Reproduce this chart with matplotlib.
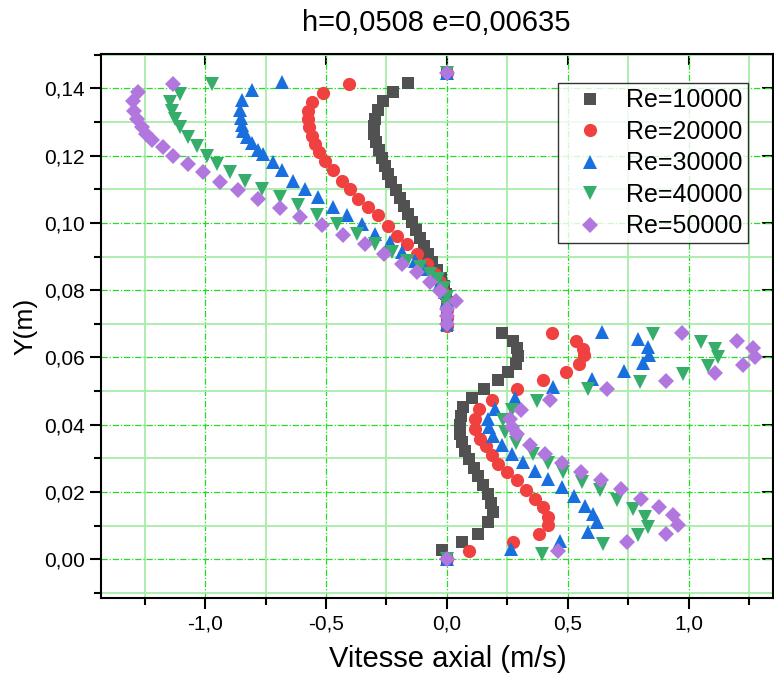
import matplotlib
matplotlib.use("Agg")
import matplotlib.pyplot as plt
from matplotlib.ticker import MultipleLocator, FuncFormatter, NullLocator

plt.rcParams["font.family"] = ["Liberation Sans", "DejaVu Sans"]


# Re=10000 profile (upper half, then lower half)
re10k_x = [0.000, -0.161, -0.223, -0.264, -0.285, -0.298, -0.302, -0.302, -0.292, -0.282,
           -0.270, -0.258, -0.244, -0.230, -0.212, -0.196, -0.178, -0.160, -0.144, -0.127,
           -0.110, -0.093, -0.077, -0.060, -0.042, -0.025, -0.012, -0.004, 0.000, 0.000,
           0.000, 0.000,
           0.226, 0.274, 0.291, 0.295, 0.285, 0.253, 0.212, 0.153, 0.105, 0.067,
           0.057, 0.053, 0.055, 0.061, 0.073, 0.090, 0.110, 0.128, 0.150, 0.171,
           0.184, 0.191, 0.171, 0.129, 0.063, -0.020, 0.000]
re10k_y = [0.1445, 0.1415, 0.1388, 0.1361, 0.1335, 0.1310, 0.1287, 0.1263, 0.1240, 0.1216,
           0.1192, 0.1168, 0.1144, 0.1121, 0.1097, 0.1073, 0.1049, 0.1026, 0.1002, 0.0978,
           0.0954, 0.0930, 0.0907, 0.0883, 0.0859, 0.0835, 0.0812, 0.0788, 0.0764, 0.0740,
           0.0716, 0.0695,
           0.0673, 0.0650, 0.0628, 0.0605, 0.0582, 0.0557, 0.0532, 0.0507, 0.0480, 0.0452,
           0.0425, 0.0398, 0.0372, 0.0348, 0.0322, 0.0298, 0.0272, 0.0248, 0.0222, 0.0195,
           0.0168, 0.0140, 0.0111, 0.0076, 0.0051, 0.0027, 0.0000]

# Re=20000
re20k_x = [0.000, -0.404, -0.514, -0.559, -0.573, -0.573, -0.569, -0.559, -0.545, -0.528,
           -0.504, -0.470, -0.435, -0.400, -0.367, -0.325, -0.284, -0.243, -0.208, -0.167,
           -0.125, -0.084, -0.050, -0.029, -0.015, 0.000, 0.000, 0.000, 0.000,
           0.433, 0.532, 0.561, 0.566, 0.547, 0.490, 0.398, 0.291, 0.185, 0.134,
           0.116, 0.116, 0.136, 0.160, 0.185, 0.212, 0.247, 0.288, 0.326, 0.364,
           0.398, 0.419, 0.419, 0.381, 0.274, 0.092, 0.000]
re20k_y = [0.1445, 0.1413, 0.1385, 0.1358, 0.1334, 0.1309, 0.1284, 0.1259, 0.1235, 0.1210,
           0.1185, 0.1156, 0.1126, 0.1101, 0.1072, 0.1047, 0.1022, 0.0992, 0.0962, 0.0938,
           0.0908, 0.0878, 0.0849, 0.0824, 0.0794, 0.0768, 0.0742, 0.0716, 0.0695,
           0.0674, 0.0650, 0.0626, 0.0606, 0.0581, 0.0556, 0.0532, 0.0507, 0.0475, 0.0446,
           0.0416, 0.0388, 0.0359, 0.0336, 0.0310, 0.0284, 0.0259, 0.0235, 0.0207, 0.0180,
           0.0155, 0.0126, 0.0101, 0.0076, 0.0051, 0.0025, 0.0000]

# Re=30000
re30k_x = [0.000, -0.683, -0.807, -0.848, -0.855, -0.853, -0.848, -0.842, -0.828, -0.807,
           -0.781, -0.759, -0.720, -0.683, -0.638, -0.587, -0.532, -0.470, -0.414, -0.352,
           -0.298, -0.236, -0.187, -0.132, -0.091, -0.057, -0.029, -0.008, 0.000, 0.000,
           0.000, 0.000,
           0.642, 0.791, 0.832, 0.836, 0.811, 0.733, 0.598, 0.437, 0.281, 0.198,
           0.171, 0.175, 0.191, 0.226, 0.267, 0.315, 0.364, 0.419, 0.474, 0.525,
           0.570, 0.605, 0.619, 0.584, 0.467, 0.263, 0.000]
re30k_y = [0.1445, 0.1419, 0.1394, 0.1365, 0.1337, 0.1313, 0.1290, 0.1272, 0.1254, 0.1236,
           0.1218, 0.1206, 0.1181, 0.1156, 0.1126, 0.1101, 0.1076, 0.1047, 0.1022, 0.0997,
           0.0967, 0.0942, 0.0913, 0.0888, 0.0863, 0.0843, 0.0820, 0.0796, 0.0770, 0.0745,
           0.0720, 0.0700,
           0.0677, 0.0656, 0.0631, 0.0606, 0.0583, 0.0559, 0.0537, 0.0512, 0.0480, 0.0448,
           0.0418, 0.0393, 0.0368, 0.0339, 0.0314, 0.0289, 0.0264, 0.0240, 0.0215, 0.0187,
           0.0160, 0.0136, 0.0111, 0.0081, 0.0056, 0.0032, 0.0000]

# Re=40000
re40k_x = [0.000, -0.972, -1.103, -1.145, -1.138, -1.124, -1.103, -1.069, -1.034, -0.993,
           -0.952, -0.897, -0.835, -0.766, -0.690, -0.614, -0.538, -0.456, -0.373, -0.298,
           -0.229, -0.167, -0.112, -0.070, -0.036, -0.012, 0.000, 0.000, 0.000, 0.000,
           0.853, 1.052, 1.107, 1.121, 1.080, 0.974, 0.798, 0.584, 0.373, 0.267,
           0.231, 0.240, 0.285, 0.357, 0.419, 0.481, 0.557, 0.632, 0.701, 0.769,
           0.818, 0.832, 0.791, 0.646, 0.391, 0.000]
re40k_y = [0.1445, 0.1413, 0.1383, 0.1358, 0.1334, 0.1309, 0.1284, 0.1254, 0.1230, 0.1200,
           0.1175, 0.1151, 0.1126, 0.1101, 0.1076, 0.1052, 0.1022, 0.0997, 0.0967, 0.0938,
           0.0913, 0.0888, 0.0868, 0.0849, 0.0832, 0.0808, 0.0780, 0.0755, 0.0730, 0.0705,
           0.0671, 0.0646, 0.0626, 0.0601, 0.0576, 0.0551, 0.0527, 0.0505, 0.0471, 0.0443,
           0.0413, 0.0378, 0.0345, 0.0314, 0.0287, 0.0259, 0.0230, 0.0205, 0.0177, 0.0151,
           0.0126, 0.0096, 0.0071, 0.0047, 0.0017, 0.0000]

# Re=50000
re50k_x = [0.000, -1.133, -1.276, -1.296, -1.293, -1.282, -1.262, -1.244, -1.219, -1.175,
           -1.131, -1.069, -1.007, -0.938, -0.862, -0.780, -0.690, -0.607, -0.518, -0.429,
           -0.339, -0.260, -0.187, -0.125, -0.070, -0.029, 0.037, 0.000, 0.000, 0.000,
           0.970, 1.197, 1.263, 1.273, 1.224, 1.107, 0.905, 0.662, 0.426, 0.304,
           0.260, 0.267, 0.288, 0.343, 0.405, 0.474, 0.554, 0.636, 0.719, 0.802,
           0.877, 0.933, 0.956, 0.905, 0.745, 0.460, 0.000]
re50k_y = [0.1445, 0.1413, 0.1388, 0.1362, 0.1334, 0.1309, 0.1284, 0.1265, 0.1247, 0.1227,
           0.1200, 0.1175, 0.1151, 0.1123, 0.1098, 0.1072, 0.1044, 0.1019, 0.0993, 0.0963,
           0.0938, 0.0909, 0.0879, 0.0853, 0.0824, 0.0798, 0.0767, 0.0745, 0.0722, 0.0700,
           0.0673, 0.0650, 0.0629, 0.0601, 0.0578, 0.0553, 0.0529, 0.0505, 0.0474, 0.0443,
           0.0418, 0.0393, 0.0373, 0.0339, 0.0314, 0.0286, 0.0259, 0.0235, 0.0208, 0.0180,
           0.0155, 0.0131, 0.0101, 0.0076, 0.0051, 0.0025, 0.0000]

labels = ["Re=10000", "Re=20000", "Re=30000", "Re=40000", "Re=50000"]
colors = ["#515151", "#F14040", "#1A6FDF", "#37AD6B", "#B177DE"]
markers = ["s", "o", "^", "v", "D"]
marker_sizes = [8, 9.5, 10, 10, 8.5]

title = "h=0,0508 e=0,00635"
x_label = "Vitesse axial (m/s)"
y_label = "Y(m)"


# Tick labels use a comma as decimal separator
def comma_formatter(decimals):
  def fmt(v, pos):
    return f"{round(v, decimals) + 0.0:.{decimals}f}".replace(".", ",")
  return FuncFormatter(fmt)


fig = plt.figure(figsize=(7.74, 6.8), dpi=100)
ax = fig.add_axes([0.1305, 0.12, 0.868, 0.8006])

series = [(re10k_x, re10k_y), (re20k_x, re20k_y), (re30k_x, re30k_y),
          (re40k_x, re40k_y), (re50k_x, re50k_y)]
for (xs, ys), lab, col, mk, ms in zip(series, labels, colors, markers, marker_sizes):
  ax.plot(xs, ys, linestyle="none", marker=mk, markersize=ms, color=col,
          markeredgewidth=0, label=lab)

ax.set_xlim(-1.43, 1.347)
ax.set_ylim(-0.0116, 0.1502)

ax.xaxis.set_major_locator(MultipleLocator(0.5))
ax.xaxis.set_minor_locator(MultipleLocator(0.25))
ax.yaxis.set_major_locator(MultipleLocator(0.02))
ax.yaxis.set_minor_locator(MultipleLocator(0.01))
ax.xaxis.set_major_formatter(comma_formatter(1))
ax.yaxis.set_major_formatter(comma_formatter(2))

# Origin-style grid: dash-dot major, light solid minor
ax.set_axisbelow(True)
ax.grid(which="major", color="#22dd22", linestyle=(0, (5, 1.5, 1, 1.5)), linewidth=0.9)
ax.grid(which="minor", color="#a8eca8", linestyle="-", linewidth=1.3)

ax.tick_params(which="major", direction="out", length=8, width=1.5, labelsize=15)
ax.tick_params(which="minor", direction="out", length=5, width=1.5)
for sp in ax.spines.values():
  sp.set_linewidth(1.5)

# Inward major ticks on the top and right edges
top = ax.secondary_xaxis("top")
top.xaxis.set_major_locator(MultipleLocator(0.5))
top.xaxis.set_minor_locator(NullLocator())
top.tick_params(direction="in", length=8, width=1.5, labeltop=False)
right = ax.secondary_yaxis("right")
right.yaxis.set_major_locator(MultipleLocator(0.02))
right.yaxis.set_minor_locator(NullLocator())
right.tick_params(direction="in", length=8, width=1.5, labelright=False)

ax.set_xlabel(x_label, fontsize=21, labelpad=10)
ax.xaxis.set_label_coords(0.516, -0.085)
ax.set_ylabel(y_label, fontsize=19, labelpad=5)
fig.text(0.563, 0.966, title, ha="center", va="center", fontsize=21)

leg = ax.legend(loc="upper right", bbox_to_anchor=(0.963, 0.946), borderaxespad=0,
                fontsize=18, frameon=True, fancybox=False, handletextpad=0.36,
                labelspacing=0.3, borderpad=0.2, handlelength=2.16)
leg.get_frame().set_edgecolor("black")
leg.get_frame().set_linewidth(1.0)

fig.savefig("out.png", dpi=100)
